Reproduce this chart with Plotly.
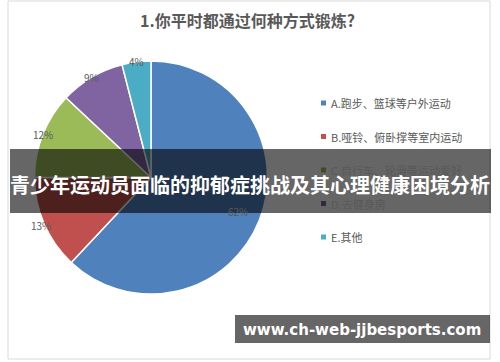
import math
import plotly.graph_objects as go

title_text = "1.你平时都通过何种方式锻炼?"
categories = ["A.跑步、篮球等户外运动", "B.哑铃、俯卧撑等室内运动", "C.自行车、轮滑等运动爱好", "D.去健身房", "E.其他"]
values = [62, 13, 12, 9, 4]
colors = ["#4F81BD", "#C0504D", "#9BBB59", "#8064A2", "#4BACC6"]
label_radius = [0.8, 1.03, 1.0, 1.0, 1.0]
banner_text = "青少年运动员面临的抑郁症挑战及其心理健康困境分析"
url_text = "www.ch-web-jjbesports.com"

W, H = 500, 362
FONT = "Noto Sans CJK SC"

def px_x(x):
    return x / W

def px_y(y):
    return 1 - y / H

cx, cy, r = 151, 177.5, 116.5

fig = go.Figure()
fig.add_trace(go.Pie(
    labels=categories,
    values=values,
    sort=False,
    direction="clockwise",
    rotation=0,
    marker=dict(colors=colors, line=dict(color="white", width=1.5)),
    textinfo="none",
    showlegend=False,
    hoverinfo="label+percent",
    domain=dict(x=[px_x(cx - r), px_x(cx + r)], y=[px_y(cy + r), px_y(cy - r)]),
))

shapes = []
annotations = []

# data labels, positioned from the slice angles
total = sum(values)
cum = 0
for v, rf in zip(values, label_radius):
    mid = (cum + v / 2) / total * 2 * math.pi
    cum += v
    lx = cx + rf * r * math.sin(mid)
    ly = cy - rf * r * math.cos(mid)
    annotations.append(dict(text=f"{round(v / total * 100)}%", x=px_x(lx), y=px_y(ly),
                            xref="paper", yref="paper", showarrow=False,
                            xanchor="center", yanchor="middle",
                            font=dict(family=FONT, size=10, color="#595959")))

# chart frame
shapes.append(dict(type="rect", xref="paper", yref="paper",
                   x0=px_x(8), x1=px_x(490), y0=px_y(359), y1=px_y(1),
                   line=dict(color="#D9D9D9", width=1), fillcolor="rgba(0,0,0,0)", layer="below"))

# title
annotations.append(dict(text="<b>" + title_text + "</b>", x=px_x(247), y=px_y(20),
                        xref="paper", yref="paper", showarrow=False,
                        font=dict(family=FONT, size=16, color="#595959"),
                        xanchor="center", yanchor="middle"))

# legend (manual)
leg_y0, leg_dy = 103, 33.5
for i, (cat, col) in enumerate(zip(categories, colors)):
    y = leg_y0 + i * leg_dy
    shapes.append(dict(type="rect", xref="paper", yref="paper",
                       x0=px_x(321), x1=px_x(326), y0=px_y(y + 2.5), y1=px_y(y - 2.5),
                       fillcolor=col, line=dict(width=0)))
    annotations.append(dict(text=cat, x=px_x(329), y=px_y(y), xref="paper", yref="paper",
                            showarrow=False, xanchor="left", yanchor="middle",
                            font=dict(family=FONT, size=11, color="#595959")))

# overlay banner
shapes.append(dict(type="rect", xref="paper", yref="paper",
                   x0=px_x(10), x1=px_x(491), y0=px_y(213), y1=px_y(149),
                   fillcolor="rgba(0,0,0,0.6)", line=dict(width=0), layer="above"))
annotations.append(dict(text="<b>" + banner_text + "</b>", x=px_x(250), y=px_y(184),
                        xref="paper", yref="paper", showarrow=False,
                        xanchor="center", yanchor="middle",
                        font=dict(family=FONT, size=20, color="white")))

# url banner
shapes.append(dict(type="rect", xref="paper", yref="paper",
                   x0=px_x(235), x1=px_x(490), y0=px_y(343), y1=px_y(315),
                   fillcolor="rgba(0,0,0,0.6)", line=dict(width=0), layer="above"))
annotations.append(dict(text="<b>" + url_text + "</b>", x=px_x(362), y=px_y(330),
                        xref="paper", yref="paper", showarrow=False,
                        xanchor="center", yanchor="middle",
                        font=dict(family="DejaVu Sans", size=15, color="white")))

fig.update_layout(
    width=W, height=H,
    margin=dict(l=0, r=0, t=0, b=0),
    paper_bgcolor="white", plot_bgcolor="white",
    shapes=shapes, annotations=annotations,
    showlegend=False,
)

fig.write_html("out.html")
